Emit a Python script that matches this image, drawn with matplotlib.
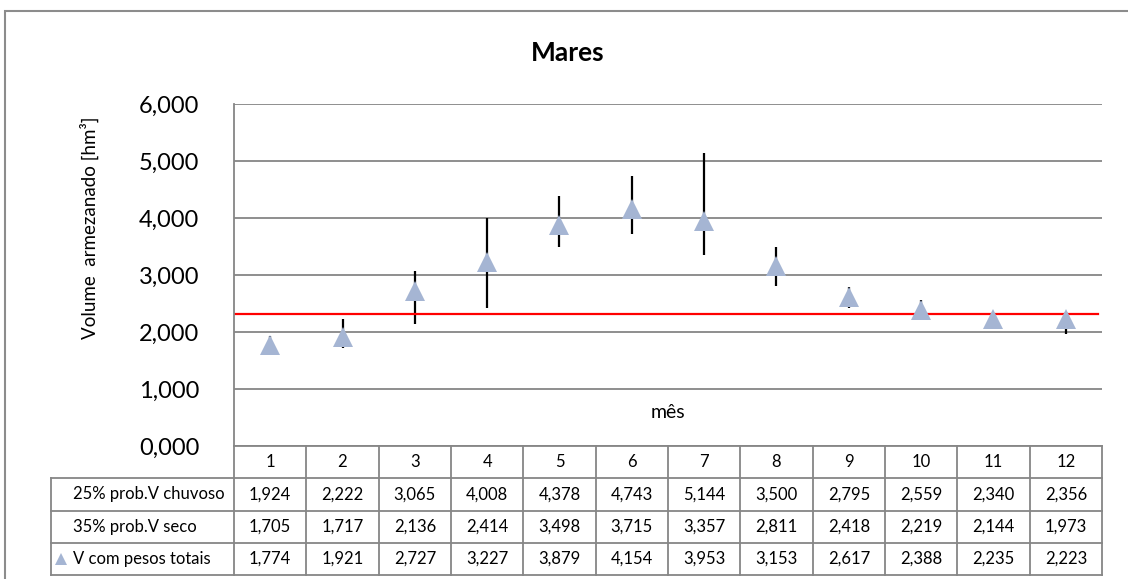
import matplotlib.pyplot as plt
from matplotlib.patches import Rectangle

months = list(range(1, 13))
v_chuvoso = [1.924, 2.222, 3.065, 4.008, 4.378, 4.743, 5.144, 3.500, 2.795, 2.559, 2.340, 2.356]
v_seco = [1.705, 1.717, 2.136, 2.414, 3.498, 3.715, 3.357, 2.811, 2.418, 2.219, 2.144, 1.973]
v_total = [1.774, 1.921, 2.727, 3.227, 3.879, 4.154, 3.953, 3.153, 2.617, 2.388, 2.235, 2.223]
red_level = 2.31
y_ticks = [0, 1, 2, 3, 4, 5, 6]

row_labels = ["25% prob.V chuvoso", "35% prob.V seco", "V com pesos totais"]
rows = [v_chuvoso, v_seco, v_total]

W, H = 1128, 579
GRID = "#868686"
MARKER = "#A5B5D3"

plt.rcParams["font.family"] = ["Lato", "DejaVu Sans"]


def fmt(v):
    return f"{v:.3f}".replace(".", ",")


def px(x0, y0, x1, y1):
    # pixel box (top-left origin) -> figure fraction rect
    return [x0 / W, 1 - y1 / H, (x1 - x0) / W, (y1 - y0) / H]


fig = plt.figure(figsize=(W / 100, H / 100), dpi=100)

# outer chart border
fig.patches.append(Rectangle((5 / W, -0.05), 1.2, 1 - 11 / H + 0.05,
                             transform=fig.transFigure, fill=False,
                             edgecolor="#8c8c8c", lw=1.5))

ax = fig.add_axes(px(234, 104, 1102, 446))
ax.set_xlim(0.5, 12.5)
ax.set_ylim(0, 6)
ax.set_yticks(y_ticks)
ax.set_yticklabels([fmt(v) for v in y_ticks], fontsize=17)
ax.tick_params(axis="y", length=0, pad=25)
ax.set_xticks([])
ax.yaxis.grid(True, color=GRID, lw=1.3)
ax.set_axisbelow(True)
for side in ["top", "right"]:
    ax.spines[side].set_visible(False)
for side in ["left", "bottom"]:
    ax.spines[side].set_color(GRID)
    ax.spines[side].set_linewidth(1.3)

ax.vlines(months, v_seco, v_chuvoso, color="black", lw=1.6, zorder=2)
ax.plot(months, v_total, linestyle="none", marker="^", markersize=15,
        color=MARKER, markeredgewidth=0, zorder=3)
ax.axhline(red_level, xmin=0, xmax=0.995, color="#ff0000", lw=1.6, zorder=2)

fig.text(568 / W, 1 - 53 / H, "Mares", fontsize=19, fontweight="bold",
         ha="center", va="center")
fig.text(89 / W, 1 - 228 / H, "Volume  armezanado [hm³]", fontsize=13.5,
         rotation=90, ha="center", va="center")
fig.text(668 / W, 1 - 413 / H, "mês", fontsize=14, ha="center", va="center")

# data table under the axis
tax = fig.add_axes(px(234, 446, 1102, 575))
tax.set_xlim(0.5, 12.5)
tax.set_ylim(0, 4)
tax.axis("off")
col_w = 868 / 12
label_w = (234 - 51) / col_w
line_kw = dict(color=GRID, lw=1.3, clip_on=False)

for m in months:
    tax.text(m, 3.5, str(m), ha="center", va="center", fontsize=12)
for i, (lab, vals) in enumerate(zip(row_labels, rows)):
    yc = 2.5 - i
    for m, v in zip(months, vals):
        tax.text(m, yc, fmt(v), ha="center", va="center", fontsize=12)
    tax.text(0.5 - label_w + 0.3, yc, lab, ha="left", va="center", fontsize=12)

tax.plot([0.5 - label_w + 0.14], [0.5], marker="^", markersize=9,
         color=MARKER, markeredgewidth=0, clip_on=False)

for y in [0, 1, 2, 3]:
    tax.plot([0.5 - label_w, 12.5], [y, y], **line_kw)
tax.plot([0.5 - label_w, 0.5 - label_w], [0, 3], **line_kw)
for m in months + [13]:
    tax.plot([m - 0.5, m - 0.5], [0, 4], **line_kw)

fig.savefig("out.png", dpi=100)
